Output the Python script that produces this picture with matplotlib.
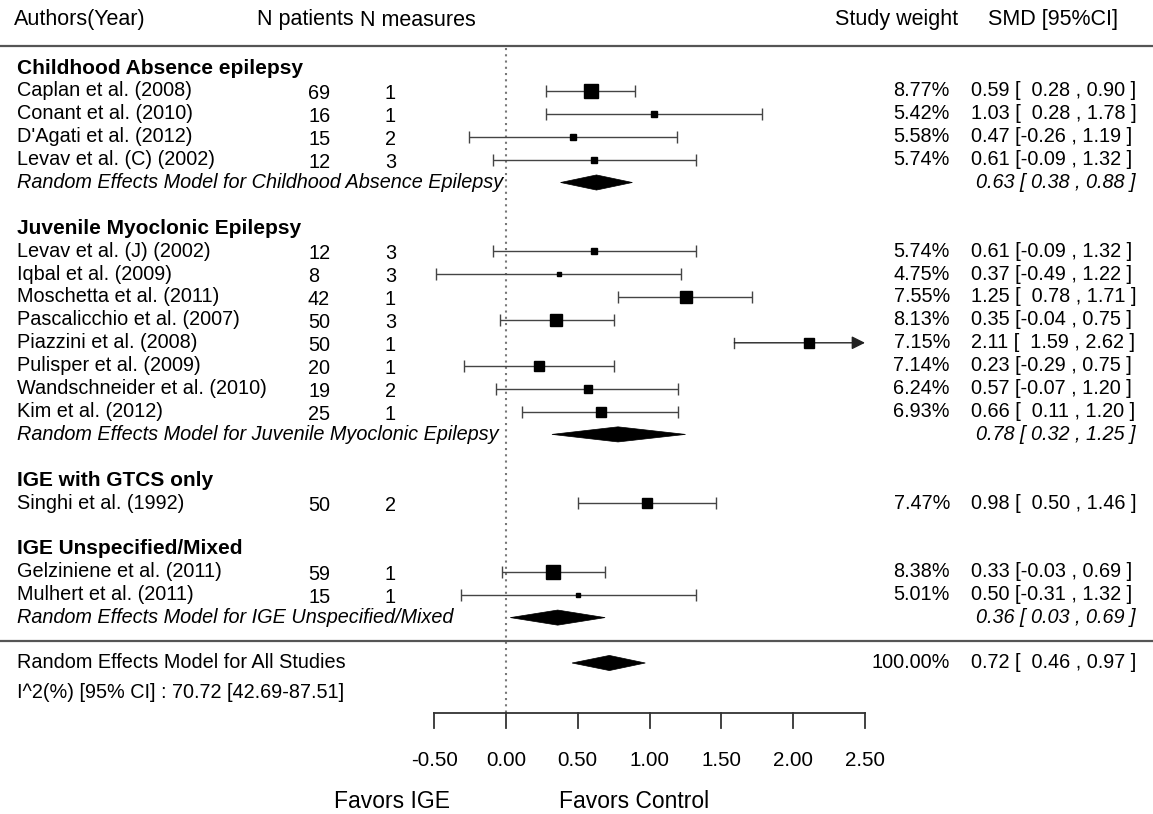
import matplotlib
matplotlib.use("Agg")
import matplotlib.pyplot as plt
from matplotlib.patches import Polygon

plt.rcParams.update({
    'font.family': ['Liberation Sans', 'DejaVu Sans'],
    'font.size': 14.3,
})

# ── Study data ───────────────────────────────────────────────────────
groups = ['Childhood Absence epilepsy', 'Juvenile Myoclonic Epilepsy',
          'IGE with GTCS only', 'IGE Unspecified/Mixed']

studies = [
    ['Caplan et al. (2008)', 'Conant et al. (2010)', "D'Agati et al. (2012)",
     'Levav et al. (C) (2002)'],
    ['Levav et al. (J) (2002)', 'Iqbal et al. (2009)', 'Moschetta et al. (2011)',
     'Pascalicchio et al. (2007)', 'Piazzini et al. (2008)',
     'Pulisper et al. (2009)', 'Wandschneider et al. (2010)', 'Kim et al. (2012)'],
    ['Singhi et al. (1992)'],
    ['Gelziniene et al. (2011)', 'Mulhert et al. (2011)'],
]
n_patients = [[69, 16, 15, 12], [12, 8, 42, 50, 50, 20, 19, 25], [50], [59, 15]]
n_measures = [[1, 1, 2, 3], [3, 3, 1, 3, 1, 1, 2, 1], [2], [1, 1]]
weights = [[8.77, 5.42, 5.58, 5.74],
           [5.74, 4.75, 7.55, 8.13, 7.15, 7.14, 6.24, 6.93],
           [7.47], [8.38, 5.01]]
smd = [[0.59, 1.03, 0.47, 0.61],
       [0.61, 0.37, 1.25, 0.35, 2.11, 0.23, 0.57, 0.66],
       [0.98], [0.33, 0.50]]
ci_low = [[0.28, 0.28, -0.26, -0.09],
          [-0.09, -0.49, 0.78, -0.04, 1.59, -0.29, -0.07, 0.11],
          [0.50], [-0.03, -0.31]]
ci_high = [[0.90, 1.78, 1.19, 1.32],
           [1.32, 1.22, 1.71, 0.75, 2.62, 0.75, 1.20, 1.20],
           [1.46], [0.69, 1.32]]

# subgroup random effects (None where the group has a single study)
re_labels = ['Random Effects Model for Childhood Absence Epilepsy',
             'Random Effects Model for Juvenile Myoclonic Epilepsy',
             None,
             'Random Effects Model for IGE Unspecified/Mixed']
re_est = [0.63, 0.78, None, 0.36]
re_low = [0.38, 0.32, None, 0.03]
re_high = [0.88, 1.25, None, 0.69]

overall = (0.72, 0.46, 0.97)
heterogeneity = 'I^2(%) [95% CI] : 70.72 [42.69-87.51]'

ticks = [-0.50, 0.00, 0.50, 1.00, 1.50, 2.00, 2.50]

# ── Layout ───────────────────────────────────────────────────────────
W, H = 1153, 814
X0_PX, UNIT_PX = 506, 143.6     # pixel of SMD 0 and pixels per SMD unit
ROW0_PX, ROW_PX = 68, 22.9      # first row centre and row pitch

fig = plt.figure(figsize=(W / 100, H / 100), dpi=100)
ax = fig.add_axes([0, 0, 1, 1])
ax.set_xlim(-X0_PX / UNIT_PX, (W - X0_PX) / UNIT_PX)
ax.set_ylim((H - ROW0_PX) / ROW_PX, -ROW0_PX / ROW_PX)
ax.axis('off')
fig.patch.set_facecolor('white')

col = ax.get_yaxis_transform()   # x in axes fraction, y in rows


def fx(px):
    return px / W


def row_of(px):
    return (px - ROW0_PX) / ROW_PX


C_AUTH, C_NPAT, C_NMEAS = fx(17), fx(308), fx(385)
C_WEIGHT, C_SMD, C_SMD_R = fx(950), fx(971), fx(1135)
LINE_COL = '#555555'
CI_COL = '#444444'

# header
hy = row_of(20)
HDR = 15.5
ax.text(fx(14), hy, 'Authors(Year)', transform=col, va='center', fontsize=HDR)
ax.text(fx(257), hy, 'N patients', transform=col, va='center', fontsize=HDR)
ax.text(fx(360), hy, 'N measures', transform=col, va='center', fontsize=HDR)
ax.text(fx(835), hy, 'Study weight', transform=col, va='center', fontsize=HDR)
ax.text(fx(988), hy, 'SMD [95%CI]', transform=col, va='center', fontsize=HDR)
ax.axhline(row_of(46), color=LINE_COL, lw=1.6)


def ci_text(est, lo, hi):
    return f'{est:.2f} [{lo:6.2f} , {hi:.2f} ]'.replace('[ -', '[-')


def diamond(est, lo, hi, y, h=0.33):
    ax.add_patch(Polygon([(lo, y), (est, y - h), (hi, y), (est, y + h)],
                         closed=True, facecolor='black', edgecolor='black',
                         lw=0.5, zorder=4))


xmax = ticks[-1]
row = 0
for g, name in enumerate(groups):
    ax.text(C_AUTH, row, name, transform=col, va='center',
            fontweight='bold', fontsize=15)
    row += 1
    for i, label in enumerate(studies[g]):
        est, lo, hi, w = smd[g][i], ci_low[g][i], ci_high[g][i], weights[g][i]
        ax.text(C_AUTH, row, label, transform=col, va='center')
        ax.text(C_NPAT, row + 0.12, str(n_patients[g][i]), transform=col,
                va='center')
        ax.text(C_NMEAS, row + 0.12, str(n_measures[g][i]), transform=col,
                va='center')
        ax.text(C_WEIGHT, row, f'{w:.2f}%', transform=col, va='center',
                ha='right')
        ax.text(C_SMD, row, ci_text(est, lo, hi), transform=col, va='center')

        if hi > xmax:
            ax.annotate('', xy=(xmax, row), xytext=(lo, row),
                        arrowprops=dict(arrowstyle='-|>', color='#222222',
                                        lw=1.0, mutation_scale=20,
                                        shrinkA=0, shrinkB=0),
                        zorder=3)
            ax.plot([lo, lo], [row - 0.22, row + 0.22], color=CI_COL, lw=1.0)
        else:
            ax.errorbar(est, row, xerr=[[est - lo], [hi - est]], fmt='none',
                        ecolor=CI_COL, elinewidth=1.0, capsize=4, capthick=1.0,
                        zorder=3)
        size = 1.75 * (w - 3.0)
        ax.plot(est, row, marker='s', color='black', markersize=size,
                ls='none', zorder=5)
        row += 1
    if re_labels[g] is not None:
        ax.text(C_AUTH, row, re_labels[g], transform=col, va='center',
                style='italic')
        diamond(re_est[g], re_low[g], re_high[g], row)
        ax.text(C_SMD_R, row, f'{re_est[g]:.2f} [ {re_low[g]:.2f} , '
                f'{re_high[g]:.2f} ]', transform=col, va='center', ha='right',
                style='italic')
        row += 1
    row += 1

# overall summary
ax.axhline(row_of(641), color=LINE_COL, lw=1.6)
oy = row_of(663)
ax.text(C_AUTH, oy, 'Random Effects Model for All Studies', transform=col,
        va='center')
diamond(*overall, oy)
ax.text(C_WEIGHT, oy, '100.00%', transform=col, va='center', ha='right')
ax.text(C_SMD, oy, ci_text(*overall), transform=col, va='center')
ax.text(C_AUTH, row_of(692), heterogeneity, transform=col, va='center')

# zero reference line
axis_y = row_of(713)
ax.plot([0, 0], [row_of(48), axis_y], color='#777777', lw=1.5,
        ls=(0, (1, 2.0)), zorder=1)

# x axis
tick_len = 15 / ROW_PX
ax.plot([ticks[0], ticks[-1]], [axis_y, axis_y], color='#333333', lw=1.3)
for t in ticks:
    ax.plot([t, t], [axis_y, axis_y + tick_len], color='#333333', lw=1.3)
    ax.text(t, row_of(760), f'{t:.2f}', ha='center', va='center',
            fontsize=14.8)

ax.text(fx(392), row_of(801), 'Favors IGE', ha='center', va='center',
        transform=col, fontsize=16.5)
ax.text(fx(634), row_of(801), 'Favors Control', ha='center', va='center',
        transform=col, fontsize=16.5)

fig.savefig('out.png', dpi=100, facecolor='white')
plt.close()
